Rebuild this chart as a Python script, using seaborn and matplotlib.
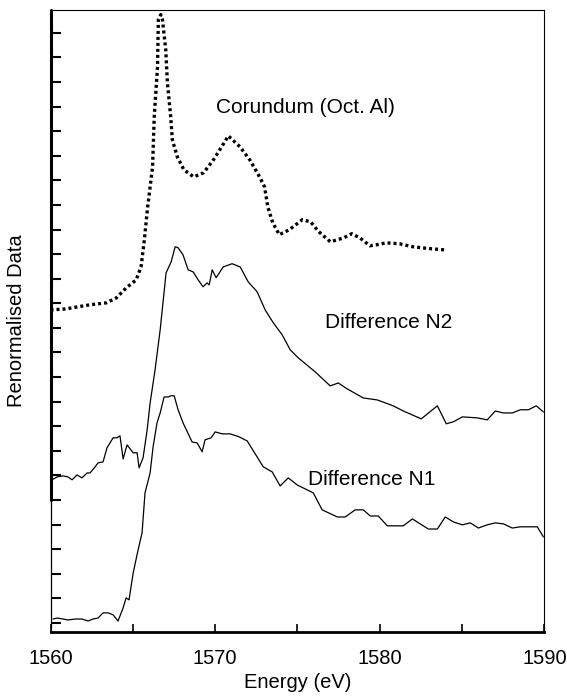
import matplotlib
matplotlib.use("Agg")
import matplotlib.pyplot as plt
import seaborn as sns
import pandas as pd

# Corundum (Oct. Al) reference spectrum (dotted)
cor_e = [1560.0, 1560.9, 1562.4, 1563.4, 1564.0, 1564.6, 1565.2, 1565.5, 1565.7, 1565.9,
         1566.2, 1566.3, 1566.5, 1566.55, 1566.7, 1566.8, 1567.0, 1567.1, 1567.3, 1567.4,
         1567.7, 1568.1, 1568.7, 1569.3, 1569.9, 1570.4, 1570.8, 1571.5, 1572.1, 1572.7,
         1573.0, 1573.2, 1573.5, 1573.9, 1574.5, 1575.3, 1575.8, 1576.3, 1577.0, 1577.8,
         1578.3, 1578.8, 1579.4, 1579.8, 1580.4, 1581.2, 1582.0, 1583.1, 1584.0]
cor_y = [12.73, 12.77, 12.94, 13.02, 13.22, 13.63, 13.95, 14.48, 15.58, 16.92,
         18.55, 20.59, 22.62, 24.53, 24.74, 24.53, 23.31, 21.97, 20.59, 19.65,
         18.96, 18.43, 18.14, 18.31, 18.84, 19.37, 19.81, 19.37, 18.84, 18.14,
         17.74, 16.92, 16.27, 15.79, 15.99, 16.40, 16.31, 15.91, 15.50, 15.66,
         15.83, 15.66, 15.34, 15.38, 15.46, 15.42, 15.30, 15.22, 15.17]

# Difference N2
n2_e = [1560.09, 1560.4, 1560.76, 1561.06, 1561.31, 1561.61, 1561.91, 1562.22, 1562.4, 1562.71,
        1562.89, 1563.19, 1563.43, 1563.8, 1564.04, 1564.22, 1564.41, 1564.65, 1565.02, 1565.26,
        1565.38, 1565.62, 1565.87, 1566.05, 1566.35, 1566.66, 1567.02, 1567.33, 1567.57, 1567.75,
        1568.05, 1568.36, 1568.66, 1568.97, 1569.27, 1569.51, 1569.64, 1569.82, 1570.06, 1570.49,
        1571.03, 1571.52, 1572.01, 1572.55, 1573.04, 1573.53, 1574.07, 1574.56, 1575.05, 1576.08,
        1576.99, 1577.48, 1578.02, 1579.0, 1579.85, 1580.82, 1581.43, 1581.98, 1582.52, 1583.5,
        1584.04, 1584.47, 1585.02, 1585.93, 1586.53, 1587.02, 1587.51, 1588.05, 1588.54, 1589.03,
        1589.51, 1589.94]
n2_y = [5.82, 5.94, 5.98, 5.94, 5.82, 6.02, 5.90, 6.10, 6.10, 6.35,
        6.51, 6.55, 7.12, 7.53, 7.53, 7.61, 6.67, 7.24, 6.92, 6.92,
        6.31, 6.71, 7.85, 8.95, 10.29, 11.92, 14.24, 14.69, 15.30, 15.26,
        14.97, 14.36, 14.28, 13.95, 13.67, 13.83, 13.75, 14.36, 14.04, 14.48,
        14.61, 14.48, 13.87, 13.47, 12.73, 12.21, 11.72, 11.11, 10.78, 10.21,
        9.64, 9.76, 9.52, 9.15, 9.07, 8.83, 8.62, 8.46, 8.30, 8.83,
        8.10, 8.18, 8.38, 8.34, 8.26, 8.62, 8.54, 8.54, 8.67, 8.67,
        8.83, 8.58]

# Difference N1
n1_e = [1560.15, 1560.4, 1560.76, 1561.06, 1561.49, 1561.91, 1562.28, 1562.58, 1562.89, 1563.19,
        1563.5, 1563.8, 1564.1, 1564.41, 1564.59, 1564.77, 1565.02, 1565.32, 1565.56, 1565.74,
        1566.05, 1566.23, 1566.47, 1566.66, 1566.9, 1567.14, 1567.33, 1567.51, 1567.75, 1568.05,
        1568.6, 1568.91, 1569.21, 1569.39, 1569.76, 1570.0, 1570.43, 1570.91, 1571.46, 1571.95,
        1572.92, 1573.47, 1573.95, 1574.44, 1574.99, 1575.96, 1576.5, 1577.42, 1577.9, 1578.51,
        1579.0, 1579.42, 1579.91, 1580.46, 1581.43, 1581.98, 1582.95, 1583.5, 1583.98, 1584.47,
        1585.02, 1585.5, 1585.99, 1586.53, 1587.02, 1587.51, 1588.05, 1588.54, 1589.57, 1589.94]
n1_y = [0.16, 0.20, 0.16, 0.12, 0.16, 0.16, 0.08, 0.16, 0.20, 0.41,
        0.41, 0.33, 0.08, 0.61, 1.02, 0.94, 2.03, 2.97, 3.66, 5.29,
        6.10, 7.16, 8.14, 8.54, 9.19, 9.19, 9.24, 9.24, 8.67, 8.14,
        7.36, 7.32, 6.96, 7.45, 7.53, 7.77, 7.69, 7.69, 7.57, 7.40,
        6.35, 6.14, 5.57, 5.90, 5.61, 5.29, 4.60, 4.31, 4.31, 4.60,
        4.60, 4.35, 4.35, 3.95, 3.95, 4.23, 3.82, 3.82, 4.31, 4.11,
        3.99, 4.07, 3.86, 3.99, 4.07, 4.03, 3.86, 3.91, 3.91, 3.50]

x_ticks = [1560, 1565, 1570, 1575, 1580, 1585, 1590]
x_tick_labels = ["1560", "", "1570", "", "1580", "", "1590"]
labels = ["Corundum (Oct. Al)", "Difference N2", "Difference N1"]

sns.set_theme(style="ticks", rc={"text.color": "black", "axes.labelcolor": "black",
                                 "xtick.color": "black", "ytick.color": "black",
                                 "axes.edgecolor": "black"})
plt.rcParams["font.family"] = ["Liberation Sans", "DejaVu Sans"]

fig = plt.figure(figsize=(5.67, 6.97), dpi=100)
ax = fig.add_axes([0.0891, 0.0932, 0.9601 - 0.0891, 0.9857 - 0.0932])

df_c = pd.DataFrame({"E": cor_e, "Y": cor_y})
df_2 = pd.DataFrame({"E": n2_e, "Y": n2_y})
df_1 = pd.DataFrame({"E": n1_e, "Y": n1_y})

sns.lineplot(data=df_c, x="E", y="Y", ax=ax, color="black", lw=2.4,
             estimator=None, sort=False)
ax.lines[-1].set_linestyle((0, (0.9, 0.9)))
ax.lines[-1].set_dash_capstyle("butt")
sns.lineplot(data=df_2, x="E", y="Y", ax=ax, color="black", lw=0.9,
             estimator=None, sort=False)
sns.lineplot(data=df_1, x="E", y="Y", ax=ax, color="black", lw=0.9,
             estimator=None, sort=False)

ax.set_xlim(1560, 1590)
ax.set_ylim(-0.37, 24.93)
ax.set_xticks(x_ticks)
ax.set_xticklabels(x_tick_labels, fontsize=14.5, color="black")
ax.set_yticks(list(range(0, 25)))
ax.set_yticklabels([])
ax.tick_params(axis="y", direction="in", length=7, width=1.5, color="black")
ax.tick_params(axis="x", direction="in", length=5.5, width=1.2, color="black",
               labelcolor="black", pad=12)

for s in ["top", "right"]:
    ax.spines[s].set_linewidth(0.8)
    ax.spines[s].set_color("black")
ax.spines["left"].set_linewidth(0.9)
ax.spines["left"].set_color("black")
ax.spines["bottom"].set_linewidth(2.0)
ax.spines["bottom"].set_color("black")
ax.axvline(1560, ymin=(632 - 500) / 622, ymax=1, color="black", lw=2.2, clip_on=False)

ax.set_xlabel("Energy (eV)", fontsize=14.5, labelpad=4, color="black")
ax.set_ylabel("Renormalised Data", fontsize=14.5, labelpad=14, color="black")

ax.text(1575.47, 20.95, labels[0], fontsize=15, ha="center", va="center", color="black")
ax.text(1580.55, 12.2, labels[1], fontsize=15, ha="center", va="center", color="black")
ax.text(1579.51, 5.82, labels[2], fontsize=15, ha="center", va="center", color="black")

fig.savefig("out.png", dpi=100)
